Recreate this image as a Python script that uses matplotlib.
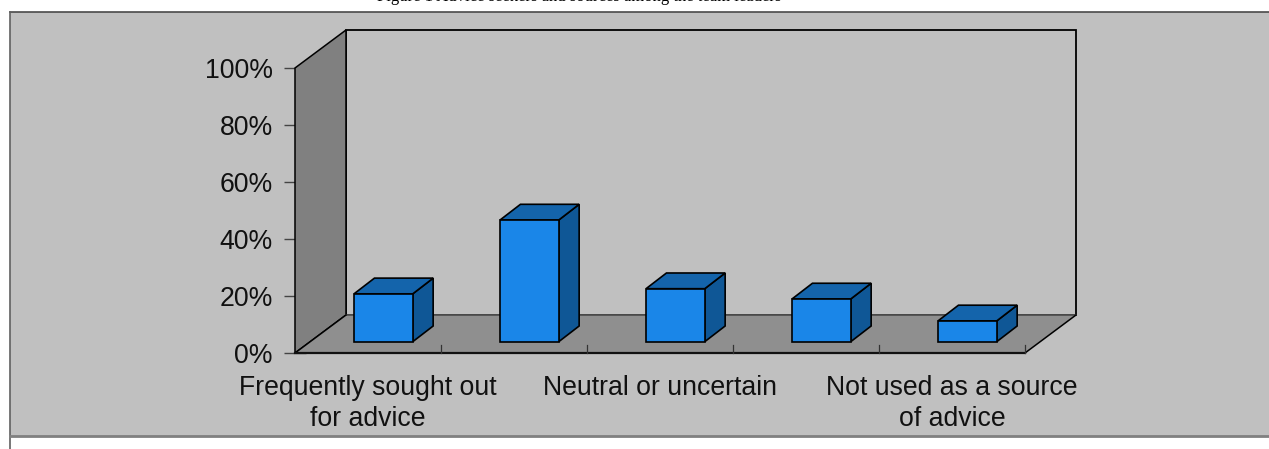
import matplotlib
matplotlib.use("Agg")
import matplotlib.pyplot as plt
from matplotlib.patches import Polygon, Rectangle
from matplotlib.lines import Line2D

W, H = 1269, 449
categories = ["Frequently sought out\nfor advice", "", "Neutral or uncertain", "",
              "Not used as a source\nof advice"]
values = [16.8, 42.7, 18.6, 15, 7.3]
y_ticks = [0, 20, 40, 60, 80, 100]
y_labels = ["0%", "20%", "40%", "60%", "80%", "100%"]
title = "Figure 1 Advice seekers and sources among the team leaders"

plt.rcParams["font.family"] = ["Liberation Sans", "DejaVu Sans"]
fig = plt.figure(figsize=(W / 100, H / 100), dpi=100, facecolor="white")

# background panel in figure pixels
bg = fig.add_axes([0, 0, 1, 1], zorder=0)
bg.set_xlim(0, W); bg.set_ylim(H, 0); bg.axis("off")
bg.add_patch(Rectangle((9.5, 11.5), W, 424, fc="#c0c0c0", ec="none"))
bg.add_line(Line2D([9.5, W], [11.5, 11.5], color="#4a4a4a", lw=1.2))
bg.add_line(Line2D([9.5, 9.5], [11.5, H], color="#606060", lw=1.2))
bg.add_line(Line2D([9.5, W], [436, 436], color="#808080", lw=2.0))
bg.text(377, 1, title, ha="left", va="baseline", fontsize=12,
        family=["Liberation Serif"], color="black", clip_on=True)

# plot axes: front plane of the 3-D box
L, R, T, B = 295, 1025, 68, 353
ax = fig.add_axes([L / W, 1 - B / H, (R - L) / W, (B - T) / H], zorder=1)
ax.set_xlim(0, len(categories))
ax.set_ylim(0, 100)
ax.patch.set_visible(False)
for s in ax.spines.values():
    s.set_visible(False)

# pixel-to-data scales
px = len(categories) / (R - L)
py = 100 / (B - T)
DX, DY = 51 * px, 38 * py          # wall depth
EDGE = "#000000"

def poly(pts, fc, z, lw=1.2):
    ax.add_patch(Polygon(pts, closed=True, fc=fc, ec=EDGE, lw=lw, zorder=z,
                         clip_on=False, joinstyle="miter"))

def seg(xs, ys, color, lw, z=2.5):
    ax.add_line(Line2D(xs, ys, color=color, lw=lw, zorder=z, clip_on=False))

n = len(categories)
# back wall, side wall, floor
poly([(DX, DY), (n + DX, DY), (n + DX, 100 + DY), (DX, 100 + DY)], "#c0c0c0", 1, 1.3)
poly([(0, 0), (DX, DY), (DX, 100 + DY), (0, 100)], "#808080", 2, 1.1)
ax.add_patch(Polygon([(0, 0), (n, 0), (n + DX, DY), (DX, DY)], closed=True, fc="#8f8f8f",
                     ec="none", zorder=2, clip_on=False))
seg([DX, n + DX], [DY, DY], "#505050", 1.3)
seg([0, DX], [0, DY], "black", 1.1)
seg([n, n + DX], [0, DY], "black", 1.1)
seg([0, n], [0, 0], "#111111", 1.6)

# bars
bar_w = 58.7 * px
off_x, off_y = 15.4 * px, 11.3 * py      # bar position inside the floor
bd_x, bd_y = 20.4 * px, 15.7 * py        # bar depth
FRONT, TOP, SIDE = "#1a86e8", "#1464ab", "#0f5796"
for i, v in enumerate(values):
    x0 = i + 0.5 - bar_w / 2 + off_x
    x1 = x0 + bar_w
    y0, y1 = off_y, off_y + v
    z = 5 + i
    poly([(x1, y0), (x1 + bd_x, y0 + bd_y), (x1 + bd_x, y1 + bd_y), (x1, y1)], SIDE, z)
    poly([(x0, y1), (x1, y1), (x1 + bd_x, y1 + bd_y), (x0 + bd_x, y1 + bd_y)], TOP, z)
    poly([(x0, y0), (x1, y0), (x1, y1), (x0, y1)], FRONT, z)

# axis ticks
ax.set_yticks(y_ticks, y_labels, fontsize=19.2, color="#111111")
ax.tick_params(axis="y", direction="inout", length=16, width=1.0, color="#444444", pad=8)
ax.set_xticks([i + 0.5 for i in range(n)], categories, fontsize=19.2, color="#111111",
              linespacing=1.26)
ax.tick_params(axis="x", length=0, pad=15.5)
for i in range(1, n + 1):
    seg([i, i], [0, 8 * py], "#333333", 0.9, 3)
for t in ax.yaxis.get_major_ticks():
    t.tick1line.set_zorder(4)

fig.savefig("out.png", dpi=100, facecolor="white")
